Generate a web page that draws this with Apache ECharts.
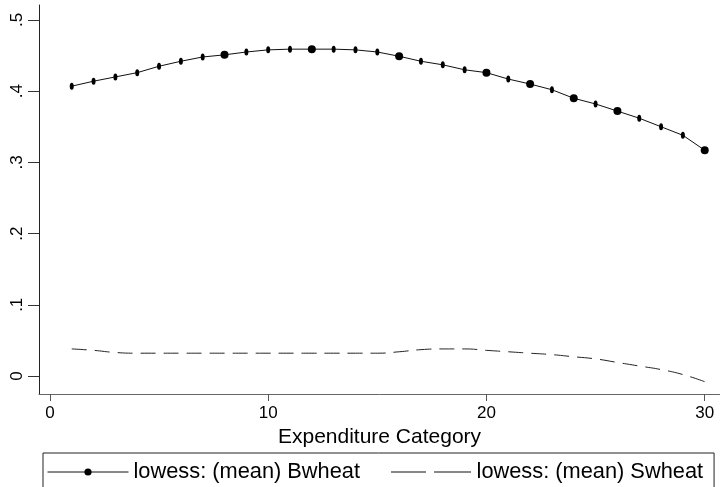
<!DOCTYPE html>
<html>
<head>
<meta charset="utf-8">
<script src="https://cdn.jsdelivr.net/npm/echarts@6/dist/echarts.min.js"></script>
<style>
  html, body { margin: 0; padding: 0; background: #fff; }
  #chart { width: 720px; height: 487px; }
</style>
</head>
<body>
<div id="chart"></div>
<script>
// Expenditure categories 1..30
const categories = [1, 2, 3, 4, 5, 6, 7, 8, 9, 10, 11, 12, 13, 14, 15,
                    16, 17, 18, 19, 20, 21, 22, 23, 24, 25, 26, 27, 28, 29, 30];

// lowess-smoothed mean budget shares
const bwheat = [0.407, 0.414, 0.420, 0.426, 0.435, 0.442, 0.448, 0.451, 0.455, 0.458,
                0.459, 0.459, 0.459, 0.458, 0.455, 0.449, 0.442, 0.437, 0.430, 0.426,
                0.417, 0.410, 0.402, 0.390, 0.382, 0.372, 0.362, 0.350, 0.338, 0.317];
const swheat = [0.038, 0.036, 0.033, 0.032, 0.032, 0.032, 0.032, 0.032, 0.032, 0.032,
                0.032, 0.032, 0.032, 0.032, 0.032, 0.034, 0.037, 0.038, 0.038, 0.036,
                0.034, 0.032, 0.030, 0.027, 0.024, 0.019, 0.014, 0.009, 0.002, -0.008];

const xTicks = [0, 10, 20, 30];
const yTicks = [0, 0.1, 0.2, 0.3, 0.4, 0.5];

const seriesNames = ['lowess: (mean) Bwheat', 'lowess: (mean) Swheat'];

// categories drawn with the larger dot marker
const bigDots = [8, 12, 16, 20, 22, 24, 26, 30];

const FONT = '"Liberation Sans", Arial, Helvetica, sans-serif';

// long-dash key for the dashed series (two strokes, full icon box kept by the empty corner points)
const DASH_ICON = 'path://M0,0L0,0Z M0,3.9L35,3.9L35,5.1L0,5.1Z M43,3.9L80,3.9L80,5.1L43,5.1Z M80,9L80,9Z';

const chart = echarts.init(document.getElementById('chart'), null, { renderer: 'canvas' });

const pairs = (ys) => categories.map((c, i) => [c, ys[i]]);

chart.setOption({
  animation: false,
  backgroundColor: '#ffffff',
  grid: { left: 39, right: 0, top: 5, bottom: 93, containLabel: false },
  xAxis: {
    type: 'value',
    min: -0.5,
    max: 30.7,
    name: 'Expenditure Category',
    nameLocation: 'middle',
    nameGap: 26,
    nameTextStyle: { color: '#000', fontFamily: FONT, fontSize: 21 },
    splitLine: { show: false },
    axisLine: { show: true, onZero: false, lineStyle: { color: '#666', width: 1 } },
    axisTick: { show: true, length: 7, customValues: xTicks, lineStyle: { color: '#555', width: 1 } },
    axisLabel: {
      customValues: xTicks, margin: 11, color: '#000', fontFamily: FONT, fontSize: 17,
      showMinLabel: true, showMaxLabel: true
    }
  },
  yAxis: {
    type: 'value',
    min: -0.0253,
    max: 0.521,
    splitLine: { show: false },
    axisLine: { show: true, onZero: false, lineStyle: { color: '#222', width: 1 } },
    axisTick: { show: true, length: 11, customValues: yTicks, lineStyle: { color: '#333', width: 1 } },
    axisLabel: {
      customValues: yTicks, rotate: 90, margin: 13, color: '#000', fontFamily: FONT, fontSize: 17,
      formatter: (v) => (Math.abs(v) < 1e-9 ? '0' : '.' + Math.round(v * 10))
    }
  },
  legend: {
    left: 43,
    top: 453,
    orient: 'horizontal',
    padding: [8, 11, 6, 4],
    itemGap: 31,
    itemWidth: 81,
    itemHeight: 9,
    borderColor: '#222',
    borderWidth: 1,
    borderRadius: 0,
    textStyle: { color: '#000', fontFamily: FONT, fontSize: 21.8 },
    data: [
      { name: seriesNames[0], lineStyle: { width: 1 } },
      { name: seriesNames[1], icon: DASH_ICON, itemStyle: { color: '#111', borderWidth: 0 } }
    ]
  },
  series: [
    {
      name: seriesNames[0],
      type: 'line',
      data: pairs(bwheat),
      smooth: false,
      symbol: 'circle',
      showSymbol: true,
      symbolSize: (val, params) => (bigDots.includes(categories[params.dataIndex]) ? 8 : [4, 7]),
      itemStyle: { color: '#000' },
      lineStyle: { color: '#111', width: 1 },
      z: 3
    },
    {
      name: seriesNames[1],
      type: 'line',
      data: pairs(swheat),
      smooth: true,
      symbol: 'none',
      showSymbol: false,
      itemStyle: { color: '#222' },
      lineStyle: { color: '#222', width: 1, type: [15, 8] },
      z: 2
    }
  ]
});
</script>
</body>
</html>
